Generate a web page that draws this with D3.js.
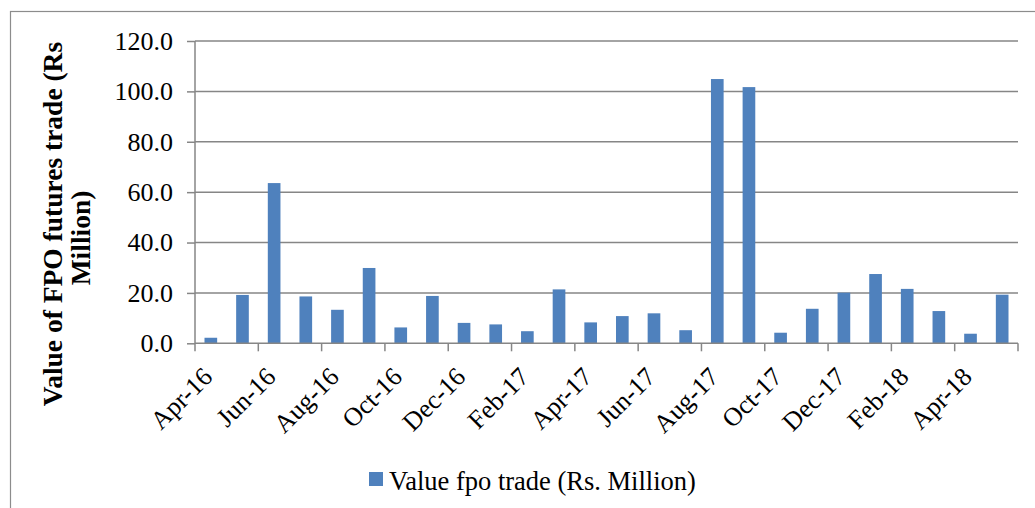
<!DOCTYPE html>
<html>
<head>
<meta charset="utf-8">
<script src="https://cdn.jsdelivr.net/npm/d3@7"></script>
<style>
  body { margin: 0; background: #fff; }
  svg { display: block; font-family: "Liberation Serif", "Times New Roman", serif; }
</style>
</head>
<body>
<svg id="chart" width="1035" height="508"></svg>
<script>
const months = [
  'Apr-16', 'May-16', 'Jun-16', 'Jul-16', 'Aug-16', 'Sep-16', 'Oct-16', 'Nov-16', 'Dec-16',
  'Jan-17', 'Feb-17', 'Mar-17', 'Apr-17', 'May-17', 'Jun-17', 'Jul-17', 'Aug-17', 'Sep-17',
  'Oct-17', 'Nov-17', 'Dec-17', 'Jan-18', 'Feb-18', 'Mar-18', 'Apr-18', 'May-18',
];
const fpoValues = [
  2.2, 19.2, 63.6, 18.6, 13.3, 29.9, 6.3, 18.8, 8.1,
  7.5, 4.8, 21.4, 8.3, 10.8, 11.9, 5.2, 104.9, 101.7,
  4.2, 13.7, 20.1, 27.5, 21.6, 12.8, 3.8, 19.3,
];
const yTicks = [0, 20, 40, 60, 80, 100, 120];
const seriesName = 'Value fpo trade (Rs. Million)';
const yTitle = ['Value of FPO futures trade (Rs', 'Million)'];

const margin = { top: 41, right: 17, bottom: 164.7, left: 195 };
const svg = d3.select('#chart');
const width = +svg.attr('width') - margin.left - margin.right;
const height = +svg.attr('height') - margin.top - margin.bottom;
const grey = '#868686';

// outer frame
svg.append('rect')
  .attr('x', 10.5).attr('y', 11.5)
  .attr('width', 1040).attr('height', 520)
  .attr('fill', 'none').attr('stroke', '#8c8c8c').attr('stroke-width', 1.2);

const g = svg.append('g').attr('transform', `translate(${margin.left},${margin.top})`);

const x = d3.scaleBand().domain(months).range([0, width]).paddingInner(0.6).paddingOuter(0.3);
const y = d3.scaleLinear().domain([0, 120]).range([height, 0]);

// gridlines
g.append('g')
  .selectAll('line')
  .data(yTicks.slice(1))
  .join('line')
  .attr('x1', 0).attr('x2', width)
  .attr('y1', d => y(d)).attr('y2', d => y(d))
  .attr('stroke', grey).attr('stroke-width', 1.5);

// bars
g.append('g')
  .selectAll('rect')
  .data(fpoValues)
  .join('rect')
  .attr('x', (d, i) => x(months[i]))
  .attr('y', d => y(d))
  .attr('width', x.bandwidth())
  .attr('height', d => y(0) - y(d))
  .attr('fill', '#4f81bd');

// y axis
const yAxis = g.append('g')
  .call(d3.axisLeft(y).tickValues(yTicks).tickFormat(d3.format('.1f')).tickSize(8).tickPadding(14));
yAxis.select('.domain').attr('stroke', grey).attr('stroke-width', 1.5).attr('d', `M0,0V${height}`);
yAxis.selectAll('.tick line').attr('stroke', grey).attr('stroke-width', 1.5);
yAxis.selectAll('text').attr('font-size', 26).attr('fill', '#000').attr('font-family', 'Liberation Serif');

// x axis: tick marks between every second category
const step = x.step();
const boundaries = d3.range(0, months.length + 1, 2).map(i => i * step);
const xAxisG = g.append('g').attr('transform', `translate(0,${height})`);
xAxisG.append('line')
  .attr('x1', 0).attr('x2', width)
  .attr('stroke', grey).attr('stroke-width', 1.5);
xAxisG.selectAll('.bt')
  .data(boundaries)
  .join('line')
  .attr('class', 'bt')
  .attr('x1', d => d).attr('x2', d => d)
  .attr('y1', 0).attr('y2', 8)
  .attr('stroke', grey).attr('stroke-width', 1.5);

xAxisG.selectAll('.lbl')
  .data(months.filter((m, i) => i % 2 === 0))
  .join('text')
  .attr('class', 'lbl')
  .attr('transform', d => `translate(${x(d) + x.bandwidth() / 2 + 3},${35}) rotate(-45)`)
  .attr('text-anchor', 'end')
  .attr('font-size', 26)
  .text(d => d);

// y title
const yt = svg.append('text')
  .attr('transform', `translate(62,231) rotate(-90)`)
  .attr('text-anchor', 'middle')
  .attr('font-weight', 'bold')
  .attr('font-size', 27.5);
yt.selectAll('tspan')
  .data(yTitle)
  .join('tspan')
  .attr('x', (d, i) => (i === 0 ? 7 : -7))
  .attr('dy', (d, i) => (i === 0 ? 0 : 28))
  .text(d => d);

// legend
const legend = svg.append('g').attr('transform', 'translate(369,472)');
legend.append('rect').attr('width', 14).attr('height', 14).attr('fill', '#4f81bd');
legend.append('text')
  .attr('x', 20).attr('y', 18)
  .attr('font-size', 26.5)
  .text(seriesName);
</script>
</body>
</html>
